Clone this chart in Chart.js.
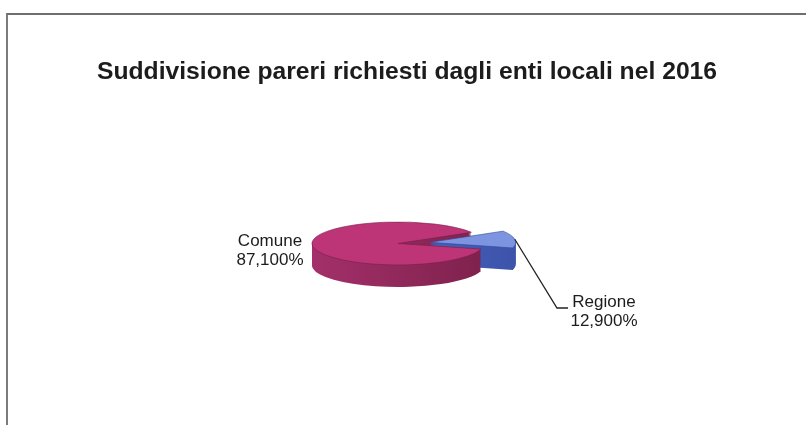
<!DOCTYPE html>
<html>
<head>
<meta charset="utf-8">
<script src="https://cdn.jsdelivr.net/npm/chart.js@4.4.1/dist/chart.umd.min.js"></script>
<style>
  html, body { margin: 0; padding: 0; background: #fff; }
  body { width: 806px; height: 425px; position: relative; overflow: hidden; }
  #frame {
    position: absolute; left: 6px; top: 13px; right: 0; bottom: 0;
    border-top: 2px solid #6e6e6e; border-left: 2px solid #7c7c7c;
  }
  #pieChart { position: absolute; left: 0; top: 0; }
</style>
</head>
<body>
<div id="frame"></div>
<canvas id="pieChart" width="806" height="425"></canvas>
<script>
const title = 'Suddivisione pareri richiesti dagli enti locali nel 2016';
const categories = ['Comune', 'Regione'];
const shares = [87.1, 12.9];

const topColors = ['#bd3577', '#7d95e0'];
const edgeColors = ['#7a1f4a', '#34479a'];
const sideStops = [['#a3306a', '#761e46'], ['#4d68c2', '#3a4fa6']];
const explode = [0, 32];
const tilt = 0.25;   // vertical squash of the disc
const depth = 22;    // thickness in px

const fontName = '"Liberation Sans", Arial, sans-serif';

function pct(v) {
  return v.toFixed(3).replace('.', ',') + '%';
}

function paintArc(ctx, arc, i, drop, fill) {
  const mid = (arc.startAngle + arc.endAngle) / 2;
  const opts = arc.options;
  ctx.save();
  ctx.translate(Math.cos(mid) * explode[i], Math.sin(mid) * explode[i] + drop);
  if (fill) arc.options = Object.assign({}, opts, { backgroundColor: fill, borderColor: fill, borderWidth: 0 });
  arc.draw(ctx);
  arc.options = opts;
  ctx.restore();
}

// flattened pie with a visible side wall
const pie3d = {
  id: 'pie3d',
  beforeDatasetsDraw(chart) {
    const ctx = chart.ctx;
    const arcs = chart.getDatasetMeta(0).data;
    const cx = arcs[0].x, cy = arcs[0].y, r = arcs[0].outerRadius;
    ctx.save();
    ctx.translate(cx, cy);
    ctx.scale(1, tilt);
    ctx.translate(-cx, -cy);
    const sides = sideStops.map(([a, b]) => {
      const g = ctx.createLinearGradient(cx - r, 0, cx + r + 40, 0);
      g.addColorStop(0, a);
      g.addColorStop(1, b);
      return g;
    });
    for (let d = depth; d > 0; d--) {
      arcs.forEach((arc, i) => paintArc(ctx, arc, i, d / tilt, sides[i]));
    }
    arcs.forEach((arc, i) => paintArc(ctx, arc, i, 0, null));
    ctx.restore();
    return false;
  },
  afterDraw(chart) {
    const ctx = chart.ctx;
    const arcs = chart.getDatasetMeta(0).data;
    const cx = arcs[0].x, cy = arcs[0].y, r = arcs[0].outerRadius;
    ctx.save();
    ctx.fillStyle = '#1c1c1c';
    ctx.textAlign = 'center';
    ctx.textBaseline = 'middle';
    ctx.font = 'bold 24.7px ' + fontName;
    ctx.fillText(title, 407, 72);

    ctx.font = '17px ' + fontName;
    ctx.fillText(categories[0], cx - 128, cy - 2.5);
    ctx.fillText(pct(shares[0]), cx - 128, cy + 16.5);
    ctx.fillText(categories[1], cx + 206, cy + 58.5);
    ctx.fillText(pct(shares[1]), cx + 206, cy + 77.5);

    // leader line for the detached slice
    const reg = arcs[1];
    const mid = (reg.startAngle + reg.endAngle) / 2;
    const sx = cx + Math.cos(mid) * (explode[1] + r);
    const sy = cy + Math.sin(mid) * (explode[1] + r) * tilt;
    ctx.strokeStyle = '#222';
    ctx.lineWidth = 1.3;
    ctx.beginPath();
    ctx.moveTo(sx, sy);
    ctx.lineTo(cx + 159, cy + 64.5);
    ctx.lineTo(cx + 170, cy + 64.5);
    ctx.stroke();
    ctx.restore();
  }
};

new Chart(document.getElementById('pieChart'), {
  type: 'pie',
  data: {
    labels: categories,
    datasets: [{
      data: shares,
      backgroundColor: topColors,
      borderColor: edgeColors,
      borderWidth: 1
    }]
  },
  options: {
    responsive: false,
    devicePixelRatio: 1,
    animation: false,
    rotation: 105,
    radius: 86,
    layout: { padding: { top: 80, bottom: 18, left: 0, right: 10 } },
    plugins: {
      legend: { display: false },
      title: { display: false },
      tooltip: { enabled: false }
    }
  },
  plugins: [pie3d]
});
</script>
</body>
</html>
